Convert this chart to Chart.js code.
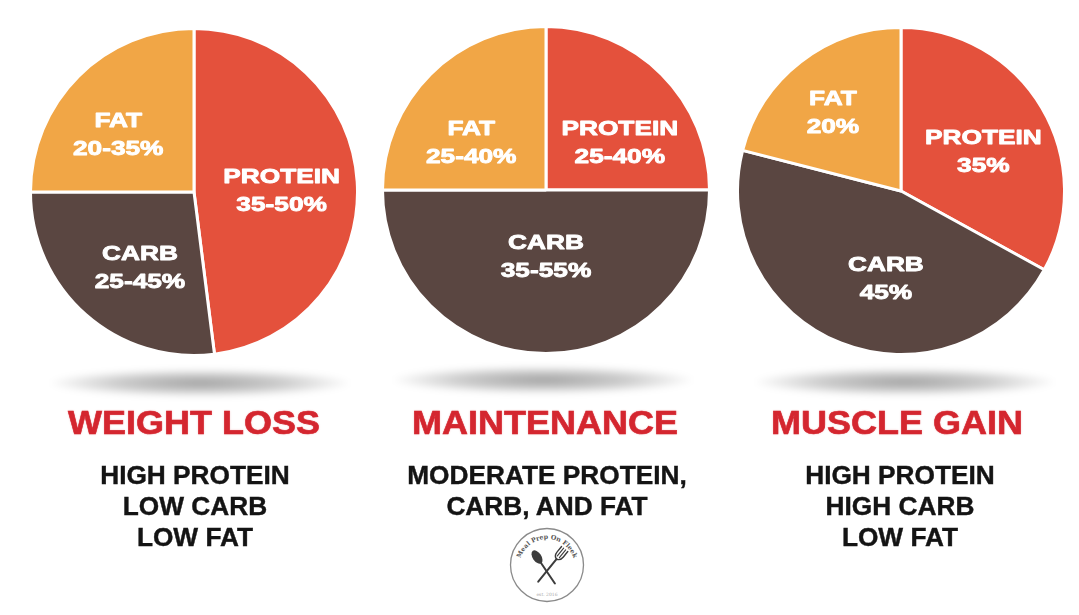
<!DOCTYPE html>
<html><head><meta charset="utf-8">
<script src="https://cdn.jsdelivr.net/npm/chart.js@4"></script>
<style>
html,body{margin:0;padding:0;background:#fff;}
body{width:1079px;height:615px;position:relative;overflow:hidden;font-family:"Liberation Sans",Arial,sans-serif;}
canvas.pie{position:absolute;width:330px;height:330px;}
.shadow{position:absolute;width:300px;height:28px;border-radius:50%;background:radial-gradient(ellipse at center, rgba(0,0,0,0.36) 0%, rgba(0,0,0,0.2) 40%, rgba(0,0,0,0) 72%);filter:blur(3px);}
.title{position:absolute;width:400px;margin-left:-200px;text-align:center;font-weight:bold;font-size:33px;line-height:40px;color:#D4262F;transform:scaleX(1.09);white-space:nowrap;-webkit-text-stroke:0.6px #D4262F;text-shadow:0 0 2px rgba(212,38,47,0.35);}
.sub{position:absolute;width:400px;margin-left:-200px;text-align:center;font-weight:bold;font-size:25px;line-height:31px;color:#141414;transform:scaleX(1.05);white-space:nowrap;-webkit-text-stroke:0.4px #141414;}
</style></head>
<body>
<div id="root"></div>
<svg width="84" height="84" viewBox="0 0 84 84" style="position:absolute;left:505px;top:523px">
  <defs><path id="arcp" d="M 14 44 A 28 28 0 0 1 70 44"/></defs>
  <circle cx="42" cy="42" r="36.5" fill="none" stroke="#8a8a8a" stroke-width="1.3"/>
  <text font-family="DejaVu Serif, serif" font-size="6.3" font-weight="bold" fill="#555"><textPath href="#arcp" startOffset="50%" text-anchor="middle">Meal Prep On Fleek</textPath></text>
  <g transform="translate(32,34) rotate(-34)" fill="#3c3c3c" stroke="#3c3c3c">
    <ellipse cx="0" cy="0" rx="4.3" ry="7.5" stroke="none"/>
    <line x1="0" y1="6" x2="0" y2="32" stroke-width="2" stroke-linecap="round"/>
  </g>
  <g transform="translate(54,33) rotate(39)" fill="none" stroke="#3c3c3c" stroke-linecap="round">
    <path d="M -4 -9 L -4 -2 Q -4 3 0 4 Q 4 3 4 -2 L 4 -9" stroke-width="1.4"/>
    <line x1="-1.3" y1="-9" x2="-1.3" y2="1" stroke-width="1.1"/>
    <line x1="1.3" y1="-9" x2="1.3" y2="1" stroke-width="1.1"/>
    <line x1="0" y1="4" x2="0" y2="33" stroke-width="2"/>
  </g>
  <text x="42" y="73" font-size="4.5" text-anchor="middle" fill="#aaa" font-family="DejaVu Serif, serif">est. 2016</text>
</svg>
<script>
// ---- data ----
const macros = ['PROTEIN', 'CARB', 'FAT'];
const goals = ['WEIGHT LOSS', 'MAINTENANCE', 'MUSCLE GAIN'];
const weightLossShare = [48, 27, 25];
const maintenanceShare = [25, 50, 25];
const muscleGainShare = [33, 46, 21];
const weightLossRanges = ['35-50%', '25-45%', '20-35%'];
const maintenanceRanges = ['25-40%', '35-55%', '25-40%'];
const muscleGainRanges = ['35%', '45%', '20%'];
const weightLossNotes = ['HIGH PROTEIN', 'LOW CARB', 'LOW FAT'];
const maintenanceNotes = ['MODERATE PROTEIN,', 'CARB, AND FAT'];
const muscleGainNotes = ['HIGH PROTEIN', 'HIGH CARB', 'LOW FAT'];

// ---- layout / style ----
const colors = ['#E4513C', '#5A4641', '#F1A646'];
const pieCenters = [[194, 192], [546, 190], [901, 191]];
const titleX = [194, 545, 897];
const noteX = [195, 547, 900];
const shadowPos = [[200, 383], [543, 380], [905, 382]];
const labelNudges = [
  [[6, 4], [0, 15], [-18, 1]],
  [[16, 11], [0, -15], [-17, 11]],
  [[12, 3], [15, 12], [-18, -13]]
];

const shares = [weightLossShare, maintenanceShare, muscleGainShare];
const ranges = [weightLossRanges, maintenanceRanges, muscleGainRanges];
const notes = [weightLossNotes, maintenanceNotes, muscleGainNotes];
const root = document.getElementById('root');

shares.forEach((vals, idx) => {
  const sh = document.createElement('div');
  sh.className = 'shadow';
  sh.style.left = (shadowPos[idx][0] - 150) + 'px';
  sh.style.top = (shadowPos[idx][1] - 14) + 'px';
  root.appendChild(sh);

  const cv = document.createElement('canvas');
  cv.className = 'pie';
  cv.width = 330; cv.height = 330;
  cv.style.left = (pieCenters[idx][0] - 165) + 'px';
  cv.style.top = (pieCenters[idx][1] - 165) + 'px';
  root.appendChild(cv);

  const t = document.createElement('div');
  t.className = 'title';
  t.textContent = goals[idx];
  t.style.left = titleX[idx] + 'px';
  t.style.top = '403px';
  root.appendChild(t);

  const s = document.createElement('div');
  s.className = 'sub';
  s.innerHTML = notes[idx].join('<br>');
  s.style.left = noteX[idx] + 'px';
  s.style.top = '460px';
  root.appendChild(s);

  const rangeTexts = ranges[idx];
  const nudges = labelNudges[idx];
  const labelPlugin = {
    id: 'sliceLabels' + idx,
    afterDatasetsDraw(chart) {
      const ctx = chart.ctx;
      const meta = chart.getDatasetMeta(0);
      meta.data.forEach((arc, i) => {
        const p = arc.getProps(['x', 'y', 'startAngle', 'endAngle', 'outerRadius'], true);
        const mid = (p.startAngle + p.endAngle) / 2;
        const r = p.outerRadius / 2;
        const cx = p.x + Math.cos(mid) * r + nudges[i][0];
        const cy = p.y + Math.sin(mid) * r + nudges[i][1];
        ctx.save();
        ctx.fillStyle = '#ffffff';
        ctx.strokeStyle = '#ffffff';
        ctx.lineWidth = 0.9;
        ctx.lineJoin = 'round';
        ctx.font = 'bold 21px "Liberation Sans", Arial, sans-serif';
        ctx.textAlign = 'center';
        ctx.textBaseline = 'middle';
        [chart.data.labels[i], rangeTexts[i]].forEach((txt, k) => {
          ctx.save();
          ctx.translate(cx, cy + (k === 0 ? -14 : 14));
          ctx.scale(1.25, 1);
          ctx.fillText(txt, 0, 0);
          ctx.strokeText(txt, 0, 0);
          ctx.restore();
        });
        ctx.restore();
      });
    }
  };

  new Chart(cv, {
    type: 'pie',
    data: {
      labels: macros,
      datasets: [{
        data: vals,
        backgroundColor: colors,
        borderColor: '#ffffff',
        borderWidth: 3
      }]
    },
    options: {
      responsive: false,
      animation: false,
      layout: { padding: 0 },
      plugins: { legend: { display: false }, tooltip: { enabled: false } }
    },
    plugins: [labelPlugin]
  });
});
</script>
</body></html>
